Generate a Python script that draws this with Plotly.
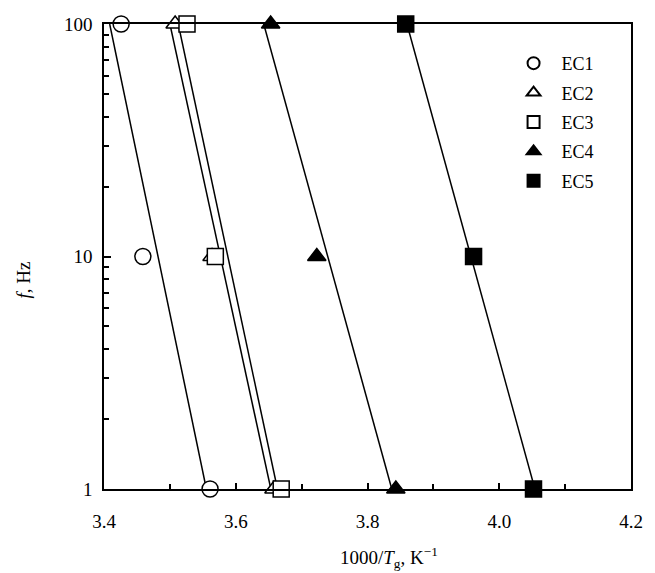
import numpy as np
import plotly.graph_objects as go

# Glass-transition data: 1000/Tg (K^-1) at each measuring frequency
freq_hz = [100, 10, 1]
ec1 = [3.426, 3.459, 3.561]
ec2 = [3.508, 3.564, 3.658]
ec3 = [3.526, 3.569, 3.669]
ec4 = [3.653, 3.723, 3.843]
ec5 = [3.858, 3.961, 4.052]

series = [
    ("EC1", ec1, "circle", "white"),
    ("EC2", ec2, "triangle-up", "white"),
    ("EC3", ec3, "square", "white"),
    ("EC4", ec4, "triangle-up", "black"),
    ("EC5", ec5, "square", "black"),
]

serif = "Liberation Serif, Times New Roman, serif"
fig = go.Figure()

# Least-squares lines of log10(f) against 1000/Tg, spanning 1-100 Hz
for name, xs, sym, fill in series:
    slope, icpt = np.polyfit(xs, np.log10(freq_hz), 1)
    lf = np.array([0.0, 2.0])
    fig.add_trace(go.Scatter(
        x=(lf - icpt) / slope, y=10 ** lf, mode="lines",
        line=dict(color="black", width=1.5), showlegend=False, hoverinfo="skip"))

for name, xs, sym, fill in series:
    fig.add_trace(go.Scatter(
        x=xs, y=freq_hz, mode="markers", name=name, legendgroup=name,
        marker=dict(symbol=sym, size=16, color=fill,
                    line=dict(color="black", width=1.5)),
        cliponaxis=False))

fig.update_layout(
    width=655, height=573,
    margin=dict(l=104, r=16, t=24, b=84),
    paper_bgcolor="white", plot_bgcolor="white",
    font=dict(family=serif, size=19, color="black"),
    showlegend=True,
    legend=dict(x=0.762, y=0.955, xanchor="left", yanchor="top",
                font=dict(size=18), itemsizing="constant", itemwidth=46,
                tracegroupgap=3, bgcolor="rgba(0,0,0,0)"),
    xaxis=dict(range=[3.4, 4.2], dtick=0.2, tick0=3.4, tickformat=".1f",
               showgrid=False, zeroline=False,
               showline=True, linecolor="black", linewidth=1.5, mirror=True,
               ticks="inside", ticklen=6, tickwidth=1.5, tickcolor="black",
               ticklabelstandoff=14,
               minor=dict(dtick=0.1, ticks="inside", ticklen=5, tickwidth=1.5,
                          tickcolor="black", showgrid=False)),
    yaxis=dict(type="log", range=[0, 2], tickvals=[1, 10, 100],
               ticktext=["1", "10", "100"],
               showgrid=False, zeroline=False,
               showline=True, linecolor="black", linewidth=1.5, mirror=True,
               ticks="inside", ticklen=7, tickwidth=1.5, tickcolor="black",
               ticklabelstandoff=6,
               minor=dict(dtick="D1", ticks="inside", ticklen=5, tickwidth=1.5,
                          tickcolor="black", showgrid=False)),
    annotations=[
        dict(text="1000/<i>T</i><sub>g</sub>, K<sup>\u22121</sup>",
             xref="paper", yref="paper", x=0.54, y=-0.148,
             xanchor="center", yanchor="middle", showarrow=False,
             font=dict(size=19)),
        dict(text="<i>f</i>, Hz", xref="paper", yref="paper",
             x=-0.153, y=0.449, xanchor="center", yanchor="middle",
             textangle=-90, showarrow=False, font=dict(size=19)),
    ],
)

fig.write_html("out.html")
